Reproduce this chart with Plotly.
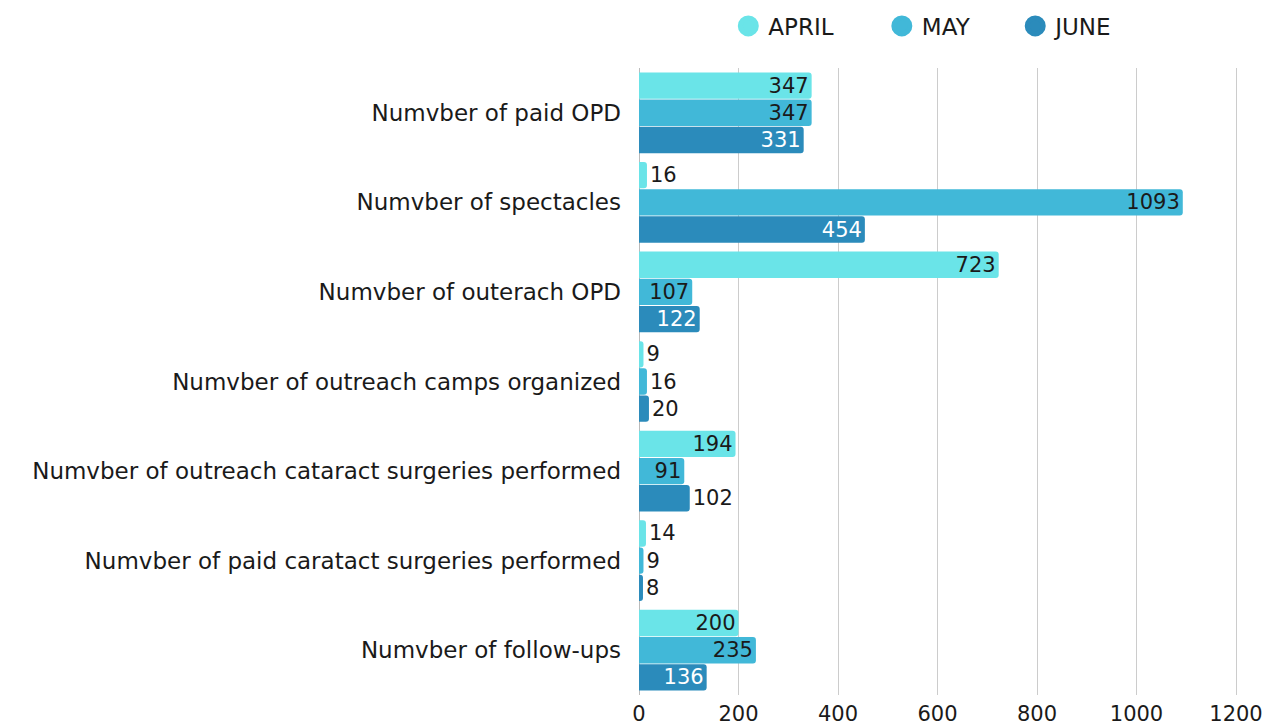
import plotly.graph_objects as go

categories = [
    "Numvber of paid OPD",
    "Numvber of spectacles",
    "Numvber of outerach OPD",
    "Numvber of outreach camps organized",
    "Numvber of outreach cataract surgeries performed",
    "Numvber of paid caratact surgeries performed",
    "Numvber of follow-ups",
]
april = [347, 16, 723, 9, 194, 14, 200]
may = [347, 1093, 107, 16, 91, 9, 235]
june = [331, 454, 122, 20, 102, 8, 136]

months = ["APRIL", "MAY", "JUNE"]
colors = ["#6AE4E8", "#41B8D8", "#2B8BBB"]
inside_colors = ["#1a1a1a", "#1a1a1a", "#ffffff"]
series = [april, may, june]
tick_values = [0, 200, 400, 600, 800, 1000, 1200]
legend_x = [0.1491, 0.4054, 0.6281]

FONT = "DejaVu Sans"
FS = 21
FS_CAT = 23

fig = go.Figure()
for i, (name, vals, col, tcol) in enumerate(zip(months, series, colors, inside_colors)):
    pos = ["inside" if v >= 90 and not (name == "JUNE" and v == 102) else "outside" for v in vals]
    lg = "legend" if i == 0 else f"legend{i+1}"
    fig.add_trace(go.Bar(
        y=categories, x=vals, orientation="h", name=name,
        marker=dict(color=col, line=dict(width=0)),
        text=[str(v) for v in vals], textposition=pos, textangle=0,
        insidetextanchor="end",
        insidetextfont=dict(color=tcol, size=FS, family=FONT),
        outsidetextfont=dict(color="#1a1a1a", size=FS, family=FONT),
        cliponaxis=False, showlegend=False,
    ))
    fig.add_trace(go.Scatter(
        x=[None], y=[None], mode="markers", name=name, legend=lg,
        marker=dict(color=col, size=16, symbol="circle", line=dict(color=col, width=5)),
        showlegend=True,
    ))

leg_common = dict(orientation="h", y=1.067, yanchor="middle", xanchor="left",
                  font=dict(size=FS_CAT, family=FONT, color="#1a1a1a"),
                  bgcolor="rgba(0,0,0,0)")
fig.update_layout(
    width=1263, height=725,
    barmode="group", bargap=0.09, bargroupgap=0.03, barcornerradius=3,
    uniformtext=dict(mode="show", minsize=FS),
    plot_bgcolor="white", paper_bgcolor="white",
    font=dict(family=FONT, size=FS, color="#1a1a1a"),
    margin=dict(l=639, r=25, t=68, b=30, autoexpand=False),
    legend=dict(x=legend_x[0], **leg_common),
    legend2=dict(x=legend_x[1], **leg_common),
    legend3=dict(x=legend_x[2], **leg_common),
    xaxis=dict(range=[0, 1204], tickvals=tick_values,
               showgrid=True, gridcolor="#cccccc", gridwidth=1,
               zeroline=True, zerolinecolor="#bbbbbb", zerolinewidth=1,
               tickfont=dict(size=FS), ticks="", ticklen=0,
               ticklabelstandoff=4, ticklabeloverflow="allow"),
    yaxis=dict(autorange="reversed", showgrid=False, ticks="",
               ticklabelstandoff=17, tickfont=dict(size=FS_CAT)),
)

fig.write_html(
    "out.html",
    config={"displayModeBar": False},
    post_script="document.body.style.margin='0';document.body.style.overflow='hidden';",
)
